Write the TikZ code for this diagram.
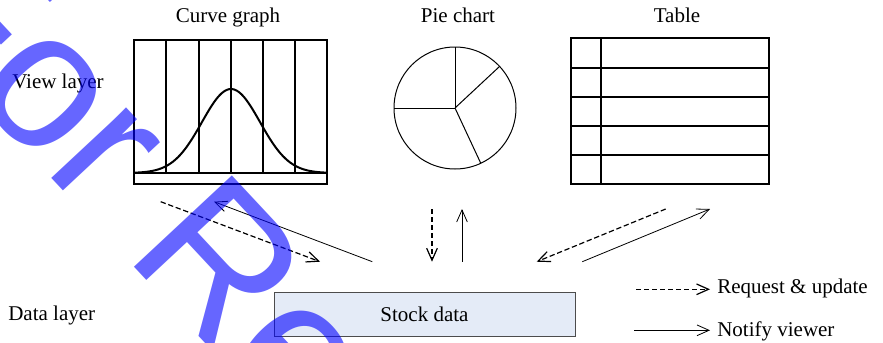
\documentclass[tikz,border=0pt]{standalone}
\usepackage{fontspec}
\setmainfont{Liberation Serif}
\newfontfamily\wmfont{Liberation Sans}
\usetikzlibrary{arrows.meta}
\definecolor{stockfill}{RGB}{228,235,247}
\tikzstyle{every node}=[inner sep=0pt,font=\fontsize{15.75}{18}\selectfont]
\tikzstyle{heading}=[anchor=base]
\tikzstyle{layer}=[anchor=base west]
\tikzstyle{stockbox}=[draw=black!70,fill=stockfill,line width=0.75pt,minimum width=225.75pt,minimum height=33pt]
\tikzstyle{request}=[dash pattern=on 4pt off 2pt,line width=0.9pt,-{Straight Barb[length=9pt,width=8pt]}]
\tikzstyle{notify}=[line width=0.6pt,-{Straight Barb[length=9pt,width=8pt]}]
\tikzstyle{wmtext}=[anchor=base west,text=blue,text opacity=0.6,font=\wmfont\fontsize{146}{150}\selectfont]

\begin{document}
\begin{tikzpicture}[x=0.75pt,y=-0.75pt]
	\useasboundingbox (0,0) rectangle (883,343);
	\node[heading] (curvetitle) at (228,22.5) {Curve graph};
	\node[heading] (pietitle) at (458,22.5) {Pie chart};
	\node[heading] (tabletitle) at (677,22.5) {Table};
	\node[layer] (viewlayer) at (12,88) {View layer};
	\node[layer] (datalayer) at (8,320) {Data layer};
	\node[stockbox] (stock) at (424.5,314) {Stock data};
	\node[layer] (reqlabel) at (717,293) {Request \& update};
	\node[layer] (notlabel) at (717,336.7) {Notify viewer};
	\begin{scope}[line width=1.5pt]
		\draw (134,40) rectangle (327,184);
		\draw (134,173) -- (327,173);
		\foreach \x in {166,199,231,263,295}
			\draw (\x,40) -- (\x,173);
		\draw[domain=134:327,samples=80,smooth] plot (\x,{173-84*exp(-((\x-231)^2)/1682)});
	\end{scope}
	\coordinate (pie) at (455,108);
	\draw[line width=0.75pt] (pie) circle[radius=45.75pt];
	\foreach \a in {90,43,180,-65}
		\draw[line width=0.75pt] (pie) -- ++(\a:45.75pt);
	\draw[line width=1pt] (571,38) rectangle (769,184);
	\foreach \y in {68,97,126,155}
		\draw[line width=1pt] (571,\y) -- (769,\y);
	\draw[line width=1pt] (601,38) -- (601,184);
	\coordinate (lq1) at (160.7,201.7); \coordinate (lq2) at (320,261.7);
	\coordinate (ln1) at (372.3,261.7); \coordinate (ln2) at (214,201.7);
	\coordinate (mq1) at (432,209); \coordinate (mq2) at (432,261.7);
	\coordinate (mn1) at (462,261.7); \coordinate (mn2) at (462,209);
	\coordinate (rq1) at (665.7,209); \coordinate (rq2) at (536.7,261.7);
	\coordinate (rn1) at (582.3,261.7); \coordinate (rn2) at (710,209);
	\coordinate (kq1) at (636,289.3); \coordinate (kq2) at (710,289.3);
	\coordinate (kn1) at (634,330.3); \coordinate (kn2) at (710,330.3);
	\draw[request] (lq1) -- (lq2);
	\draw[notify] (ln1) -- (ln2);
	\draw[request] (mq1) -- (mq2);
	\draw[notify] (mn1) -- (mn2);
	\draw[request] (rq1) -- (rq2);
	\draw[notify] (rn1) -- (rn2);
	\draw[request] (kq1) -- (kq2);
	\draw[notify] (kn1) -- (kn2);
	\begin{scope}
		\clip (0,0) rectangle (883,343);
		\node[wmtext,rotate=-47] (wm) at (-112.6,2.6) {For Review Only};
	\end{scope}
\end{tikzpicture}
\end{document}
